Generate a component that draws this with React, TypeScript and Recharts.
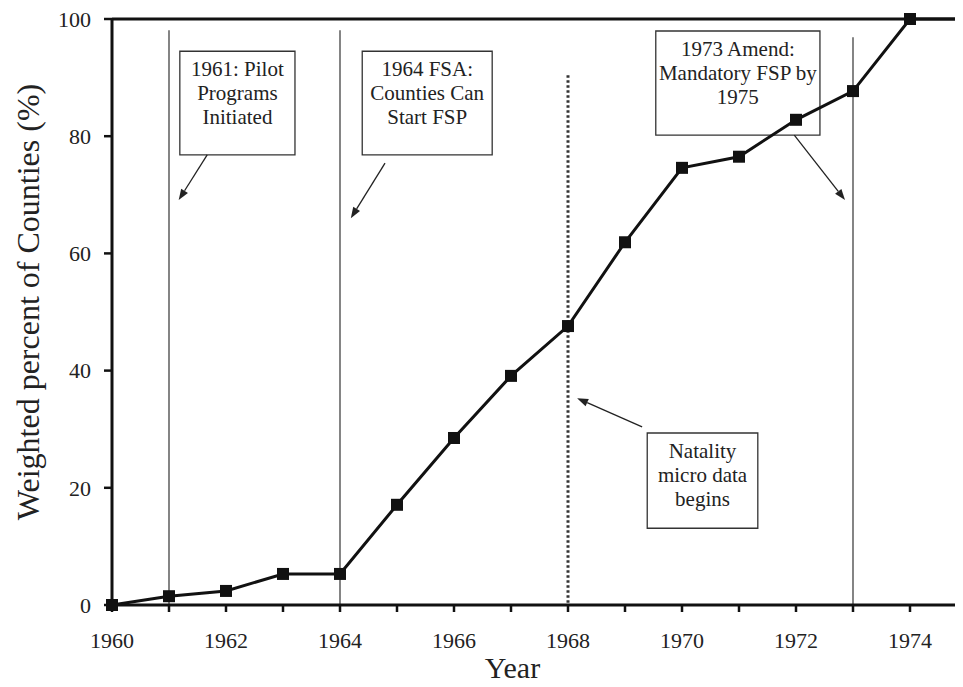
import React from 'react';
import {
  LineChart,
  Line,
  XAxis,
  YAxis,
  ReferenceLine,
  ReferenceArea,
} from 'recharts';

const years = [1960, 1961, 1962, 1963, 1964, 1965, 1966, 1967, 1968, 1969, 1970, 1971, 1972, 1973, 1974, 1975];
const percents = [0, 1.5, 2.4, 5.3, 5.3, 17.1, 28.5, 39.1, 47.6, 61.9, 74.6, 76.5, 82.8, 87.7, 100, 100];
const yTicks = [0, 20, 40, 60, 80, 100];

// event lines: year, top of line (percent), dotted?
const eventYears = [1961, 1964, 1968, 1973];
const eventTops = [98.1, 98.1, 90.4, 96.9];
const eventDotted = [false, false, true, false];

// annotation boxes in data space
const boxLines = [
  ['1961: Pilot', 'Programs', 'Initiated'],
  ['1964 FSA:', 'Counties Can', 'Start FSP'],
  ['1973 Amend:', 'Mandatory FSP by', '1975'],
  ['Natality', 'micro data', 'begins'],
];
const boxX = [[1961.19, 1963.21], [1964.39, 1966.67], [1969.54, 1972.42], [1969.39, 1971.33]];
const boxY = [[76.8, 94.5], [76.8, 94.5], [80.2, 97.95], [13.1, 29.35]];

// arrows: from -> to
const arrowFrom = [[1961.67, 76.8], [1964.79, 75.4], [1971.97, 80.2], [1969.3, 30.4]];
const arrowTo = [[1961.17, 69.1], [1964.19, 66.0], [1972.86, 69.1], [1968.16, 35.3]];

const data = years.map((y, i) => ({ year: y, pct: percents[i] }));

const FONT = '"Liberation Serif", "Times New Roman", serif';

const SquareDot = (props: any) => {
  const { cx, cy, index } = props;
  if (cx == null || cy == null) return null;
  return <rect key={`d${index}`} x={cx - 6} y={cy - 6} width={12} height={12} fill="#111" />;
};

const Arrow = (props: any) => {
  const { x1, y1, x2, y2 } = props;
  const ang = Math.atan2(y2 - y1, x2 - x1);
  const len = 11;
  const hw = 4;
  const bx = x2 - len * Math.cos(ang);
  const by = y2 - len * Math.sin(ang);
  const px = -Math.sin(ang) * hw;
  const py = Math.cos(ang) * hw;
  return (
    <g>
      <line x1={x1} y1={y1} x2={bx} y2={by} stroke="#222" strokeWidth={1.3} />
      <polygon points={`${x2},${y2} ${bx + px},${by + py} ${bx - px},${by - py}`} fill="#222" />
    </g>
  );
};

const boxLabel = (lines: string[]) => (props: any) => {
  const vb = props.viewBox;
  if (!vb) return null;
  const cx = vb.x + vb.width / 2;
  return (
    <g>
      {lines.map((t, i) => (
        <text
          key={i}
          x={cx}
          y={vb.y + 25 + i * 24}
          textAnchor="middle"
          fontFamily={FONT}
          fontSize={21}
          fill="#222"
        >
          {t}
        </text>
      ))}
    </g>
  );
};

const yLabel = (props: any) => {
  const vb = props.viewBox;
  const x = vb.x + 20;
  const y = vb.y + vb.height / 2 - 10;
  return (
    <text
      x={x}
      y={y}
      transform={`rotate(-90, ${x}, ${y})`}
      textAnchor="middle"
      dominantBaseline="central"
      fontFamily={FONT}
      fontSize={32}
      fill="#222"
    >
      Weighted percent of Counties (%)
    </text>
  );
};

export default function App() {
  return (
    <div style={{ width: 955, height: 679, overflow: 'hidden' }}>
      <LineChart
        width={970}
        height={679}
        data={data}
        margin={{ top: 11, right: 11, left: 0, bottom: 0 }}
      >
        <XAxis
          dataKey="year"
          type="number"
          domain={[1960, 1975]}
          ticks={years}
          interval={0}
          tickFormatter={(v: number) => (v % 2 === 0 ? String(v) : '')}
          tick={{ fontSize: 22, fill: '#222', fontFamily: FONT }}
          tickSize={7}
          tickMargin={20}
          tickLine={{ stroke: '#111', strokeWidth: 2.5 }}
          axisLine={{ stroke: '#111', strokeWidth: 3 }}
          height={82}
          label={{ value: 'Year', position: 'insideBottom', offset: 9, dx: -27, fontSize: 30, fill: '#222', fontFamily: FONT }}
        />
        <YAxis
          domain={[0, 100]}
          ticks={yTicks}
          interval={0}
          width={104}
          tick={{ fontSize: 22, fill: '#222', fontFamily: FONT }}
          tickSize={8}
          tickMargin={13}
          tickLine={{ stroke: '#111', strokeWidth: 2.5 }}
          axisLine={{ stroke: '#111', strokeWidth: 3 }}
          label={{ content: yLabel }}
        />
        <ReferenceLine y={100} stroke="#111" strokeWidth={3} />
        {eventYears.map((yr, i) => (
          <ReferenceLine
            key={`e${i}`}
            segment={[{ x: yr, y: eventTops[i] }, { x: yr, y: 0 }]}
            stroke="#333"
            strokeWidth={eventDotted[i] ? 3 : 1.2}
            strokeDasharray={eventDotted[i] ? '2.5 2.5' : undefined}
          />
        ))}
        {boxLines.map((lines, i) => (
          <ReferenceArea
            key={`b${i}`}
            x1={boxX[i][0]}
            x2={boxX[i][1]}
            y1={boxY[i][0]}
            y2={boxY[i][1]}
            fill="#fff"
            fillOpacity={1}
            stroke="#333"
            strokeWidth={1.3}
            label={boxLabel(lines)}
          />
        ))}
        {arrowFrom.map((f, i) => (
          <ReferenceLine
            key={`a${i}`}
            segment={[{ x: f[0], y: f[1] }, { x: arrowTo[i][0], y: arrowTo[i][1] }]}
            shape={(p: any) => <Arrow {...p} />}
          />
        ))}
        <Line
          type="linear"
          dataKey="pct"
          stroke="#111"
          strokeWidth={3}
          dot={<SquareDot />}
          activeDot={false}
          isAnimationActive={false}
        />
      </LineChart>
    </div>
  );
}
